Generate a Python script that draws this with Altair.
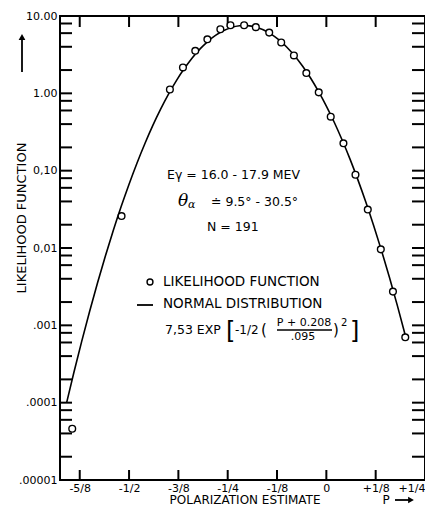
import altair as alt
import pandas as pd

# ---------------- data ----------------
# likelihood function (circles)
p_like = [-0.644, -0.519, -0.3965, -0.3634, -0.3322, -0.3015, -0.2686, -0.243,
          -0.2084, -0.1787, -0.1448, -0.1144, -0.0822, -0.0507, -0.0193, 0.0111,
          0.0433, 0.0738, 0.105, 0.138, 0.1688, 0.200]
L_like = [4.6e-5, 0.0259, 1.12, 2.16, 3.55, 5.0, 6.74, 7.59,
          7.59, 7.17, 6.1, 4.54, 3.09, 1.83, 1.03, 0.499,
          0.226, 0.0885, 0.0314, 0.0096, 0.00273, 0.0007]

# normal distribution curve (solid line)
p_norm = [-0.658, -0.64, -0.62, -0.60, -0.58, -0.56, -0.54, -0.52, -0.50, -0.48,
          -0.46, -0.44, -0.42, -0.40, -0.38, -0.36, -0.34, -0.32, -0.30, -0.28,
          -0.26, -0.24, -0.22, -0.208, -0.20, -0.18, -0.16, -0.14, -0.12, -0.10,
          -0.08, -0.06, -0.04, -0.02, 0.00, 0.02, 0.04, 0.06, 0.08, 0.10,
          0.12, 0.14, 0.16, 0.18, 0.20]
L_norm = [1.01e-4, 2.44e-4, 6.20e-4, 1.51e-3, 3.52e-3, 7.86e-3, 0.0168, 0.0343, 0.0669, 0.125,
          0.223, 0.382, 0.624, 0.977, 1.46, 2.09, 2.87, 3.76, 4.71, 5.65,
          6.48, 7.12, 7.47, 7.53, 7.50, 7.21, 6.63, 5.83, 4.90, 3.95,
          3.04, 2.24, 1.58, 1.06, 0.685, 0.423, 0.249, 0.141, 0.0760, 0.0393,
          0.0194, 0.00918, 0.00415, 0.00180, 0.000744]

x_tick_values = [-0.625, -0.5, -0.375, -0.25, -0.125, 0.0, 0.125, 0.25]
x_tick_labels = ["-5/8", "-1/2", "-3/8", "-1/4", "-1/8", "0", "+1/8", "+1/4"]
y_tick_values = [10.0, 1.0, 0.1, 0.01, 0.001, 0.0001, 0.00001]
y_tick_labels = ["10.00", "1.00", "0,10", "0,01", ".001", ".0001", ".00001"]
minor_mult = [2, 4, 6, 8]

# ---------------- layout ----------------
W, H = 365, 464
FONT = "DejaVu Sans"

x_expr = "".join(f"abs(datum.value - ({v})) < 0.001 ? '{l}' : " for v, l in zip(x_tick_values, x_tick_labels)) + "''"
y_expr = "".join(f"(datum.value > {v * 0.9} && datum.value < {v * 1.1}) ? '{l}' : " for v, l in zip(y_tick_values, y_tick_labels)) + "''"

x_enc = alt.X("p:Q",
              scale=alt.Scale(domain=[-0.675, 0.25], nice=False, zero=False),
              axis=alt.Axis(values=x_tick_values, labelExpr=x_expr, ticks=False, domain=False,
                            grid=False, title=None, labelFont=FONT, labelFontSize=11,
                            labelColor="black", labelPadding=2, labelFlush=True,
                            labelOverlap=False, labelBound=False))
y_enc = alt.Y("L:Q",
              scale=alt.Scale(type="log", domain=[0.00001, 10], nice=False),
              axis=alt.Axis(values=y_tick_values, labelExpr=y_expr, ticks=False, domain=False,
                            grid=False, title=None, labelFont=FONT, labelFontSize=11,
                            labelColor="black", labelPadding=3, labelFlush=False,
                            labelOverlap=False, labelBound=False))

df_like = pd.DataFrame({"p": p_like, "L": L_like})
df_norm = pd.DataFrame({"p": p_norm, "L": L_norm})
y_all_ticks = y_tick_values + [m * d for d in y_tick_values[1:] for m in minor_mult]
df_yt = pd.DataFrame({"L": y_all_ticks})
df_xt = pd.DataFrame({"p": x_tick_values[:-1]})
one = pd.DataFrame({"a": [0]})

curve = alt.Chart(df_norm).mark_line(color="black", strokeWidth=1.6, interpolate="monotone").encode(
    x=x_enc, y=y_enc)
points = alt.Chart(df_like).mark_point(shape="circle", filled=True, fill="white", stroke="black",
                                      strokeWidth=1.4, size=45, opacity=1).encode(x=x_enc, y=y_enc)

left_ticks = alt.Chart(df_yt).mark_rule(color="black", strokeWidth=2).encode(
    y=y_enc, x=alt.value(0), x2=alt.value(12))
right_ticks = alt.Chart(df_yt).mark_rule(color="black", strokeWidth=2).encode(
    y=y_enc, x=alt.value(W - 13), x2=alt.value(W))
bottom_ticks = alt.Chart(df_xt).mark_rule(color="black", strokeWidth=2).encode(
    x=x_enc, y=alt.value(H - 10), y2=alt.value(H))
top_ticks = alt.Chart(df_xt).mark_rule(color="black", strokeWidth=2).encode(
    x=x_enc, y=alt.value(0), y2=alt.value(11))


def txt(s, x, y, size=12, align="left", font=FONT, style="normal", angle=0, baseline="middle"):
    kw = dict(text=s, fontSize=size, align=align, baseline=baseline, font=font,
              color="black", fontStyle=style)
    if angle:
        kw["angle"] = angle
    return alt.Chart(one).mark_text(**kw).encode(x=alt.value(x), y=alt.value(y))


def seg(x1, x2, y1, y2, w=1.6):
    return alt.Chart(one).mark_rule(color="black", strokeWidth=w).encode(
        x=alt.value(x1), x2=alt.value(x2), y=alt.value(y1), y2=alt.value(y2))


def head(x, y, shape, size=40):
    return alt.Chart(one).mark_point(shape=shape, filled=True, color="black", size=size, opacity=1).encode(
        x=alt.value(x), y=alt.value(y))


annotations = [
    # axis titles and arrows
    txt("LIKELIHOOD  FUNCTION", -38, 202, size=13, align="center", angle=270),
    seg(-38, -38, 22, 56, w=1.8),
    head(-38, 21, "triangle-up", 45),
    txt("POLARIZATION  ESTIMATE", 185, 488, size=12, align="center", baseline="alphabetic"),
    txt("P", 326, 488, size=12, align="center", baseline="alphabetic"),
    seg(335, 349, 484, 484, w=1.8),
    head(351, 484, "triangle-right", 45),
    # run parameters
    txt("Eγ = 16.0 - 17.9 MEV", 107, 159, size=12.5),
    txt("θ", 118, 185, size=17, font="DejaVu Serif", style="italic"),
    txt("α", 128, 189, size=11, font="DejaVu Serif", style="italic"),
    txt("≐ 9.5° - 30.5°", 151, 186, size=12.5),
    txt("N = 191", 147, 211, size=12.5),
    # legend
    alt.Chart(one).mark_point(shape="circle", filled=True, fill="white", stroke="black",
                              strokeWidth=1.4, size=35, opacity=1).encode(x=alt.value(90), y=alt.value(266)),
    txt("LIKELIHOOD FUNCTION", 103, 266, size=13.5),
    seg(77, 93, 289, 289, w=1.8),
    txt("NORMAL DISTRIBUTION", 103, 288, size=13.5),
    txt("7,53 EXP", 105, 314, size=12.5),
    txt("[", 166, 316, size=24),
    txt("-1/2", 175, 314, size=12),
    txt("(", 201, 314, size=15),
    txt("P + 0.208", 244, 307, size=11, align="center"),
    seg(217, 272, 314, 314, w=1.3),
    txt(".095", 243, 321, size=11, align="center"),
    txt(")", 273, 314, size=15),
    txt("2", 281, 307, size=10),
    txt("]", 290, 316, size=24),
]

chart = alt.layer(left_ticks, right_ticks, bottom_ticks, top_ticks, curve, points, *annotations).properties(
    width=W, height=H,
    autosize=alt.AutoSizeParams(type="none"),
    padding={"left": 52, "top": 8, "right": 0, "bottom": 27},
    background="white",
).configure_view(stroke="black", strokeWidth=2)

chart.save("out.html", embed_options={"renderer": "svg", "actions": False})
